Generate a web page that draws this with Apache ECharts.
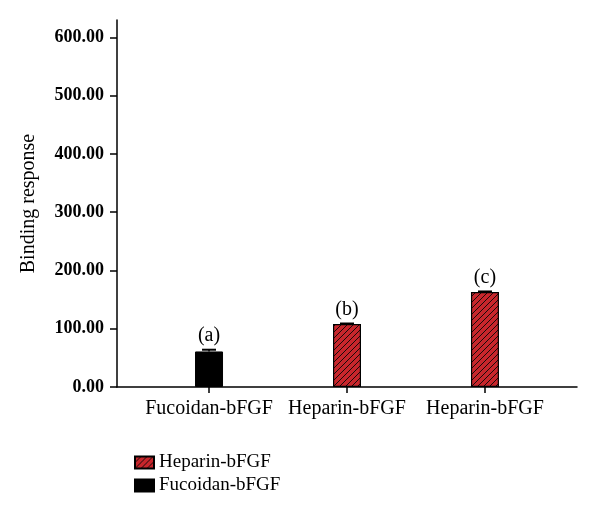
<!DOCTYPE html>
<html>
<head>
<meta charset="utf-8">
<script src="https://cdn.jsdelivr.net/npm/echarts@6/dist/echarts.min.js"></script>
<style>
  html, body { margin: 0; padding: 0; background: #fff; }
  #chart { width: 600px; height: 513px; }
</style>
</head>
<body>
<div id="chart"></div>
<script>
const categories = ['Fucoidan-bFGF', 'Heparin-bFGF', 'Heparin-bFGF'];
const fucoidanValues = [61, null, null];
const heparinValues = [null, 108, 163];
const errors = [3, 1, 1];
const letters = ['(a)', '(b)', '(c)'];
const yTicks = [0, 100, 200, 300, 400, 500, 600];

const FONT = 'Liberation Serif';

// red with black diagonal hatch
function hatch() {
  const c = document.createElement('canvas');
  c.width = 6; c.height = 6;
  const g = c.getContext('2d');
  g.fillStyle = '#c8262c';
  g.fillRect(0, 0, 6, 6);
  g.strokeStyle = '#1a0a0a';
  g.lineWidth = 1;
  g.beginPath();
  g.moveTo(-1, 7); g.lineTo(7, -1);
  g.moveTo(-1, 1); g.lineTo(1, -1);
  g.moveTo(5, 7); g.lineTo(7, 5);
  g.stroke();
  return c;
}

const pos = categories.map((c, i) => i + 1);
const toPts = arr => arr.map((v, i) => [pos[i], v]);
const allValues = fucoidanValues.map((v, i) => v != null ? v : heparinValues[i]);

const chart = echarts.init(document.getElementById('chart'));
chart.setOption({
  animation: false,
  grid: { left: 117, right: 23, top: 20, bottom: 126 },
  legend: {
    orient: 'vertical',
    left: 129,
    top: 448,
    icon: 'rect',
    itemWidth: 19,
    itemHeight: 12,
    itemGap: 4,
    data: ['Heparin-bFGF', 'Fucoidan-bFGF'],
    textStyle: { fontFamily: FONT, fontSize: 19, color: '#000' }
  },
  xAxis: {
    type: 'value',
    min: 0.333,
    max: 3.667,
    splitLine: { show: false },
    axisLine: { lineStyle: { color: '#000', width: 1.5 } },
    axisTick: { customValues: pos, length: 6, lineStyle: { color: '#000', width: 1.5 } },
    axisLabel: {
      customValues: pos,
      margin: 12,
      fontFamily: FONT,
      fontSize: 20,
      color: '#000',
      formatter: v => categories[Math.round(v) - 1]
    }
  },
  yAxis: {
    type: 'value',
    min: 0,
    max: 630,
    name: 'Binding response',
    nameLocation: 'middle',
    nameGap: 78,
    nameTextStyle: { fontFamily: FONT, fontSize: 20, color: '#000' },
    splitLine: { show: false },
    axisLine: { show: true, lineStyle: { color: '#000', width: 1.5 } },
    axisTick: { show: true, customValues: yTicks, length: 7, lineStyle: { color: '#000', width: 1.5 } },
    axisLabel: {
      customValues: yTicks,
      margin: 13,
      fontFamily: FONT,
      fontSize: 18,
      fontWeight: 'bold',
      color: '#000',
      formatter: v => v.toFixed(2)
    }
  },
  series: [
    {
      name: 'Heparin-bFGF',
      type: 'bar',
      barWidth: 28,
      barGap: '-100%',
      data: toPts(heparinValues),
      itemStyle: {
        color: { image: hatch(), repeat: 'repeat' },
        borderColor: '#000',
        borderWidth: 1.2
      }
    },
    {
      name: 'Fucoidan-bFGF',
      type: 'bar',
      barWidth: 28,
      barGap: '-100%',
      data: toPts(fucoidanValues),
      itemStyle: { color: '#000', borderColor: '#000', borderWidth: 1 }
    },
    {
      type: 'custom',
      silent: true,
      data: allValues.map((v, i) => [pos[i], v, errors[i]]),
      renderItem: function (params, api) {
        const x = api.value(0), v = api.value(1), e = api.value(2);
        const top = api.coord([x, v + e]);
        const base = api.coord([x, v]);
        return {
          type: 'group',
          children: [
            { type: 'line', shape: { x1: top[0], y1: top[1], x2: base[0], y2: base[1] },
              style: { stroke: '#000', lineWidth: 1.5 } },
            { type: 'line', shape: { x1: top[0] - 7, y1: top[1], x2: top[0] + 7, y2: top[1] },
              style: { stroke: '#000', lineWidth: 2 } },
            { type: 'text', x: top[0], y: top[1] - 4,
              style: { text: letters[params.dataIndex], fontFamily: FONT, fontSize: 20,
                fill: '#000', align: 'center', verticalAlign: 'bottom' } }
          ]
        };
      }
    }
  ]
});
</script>
</body>
</html>
